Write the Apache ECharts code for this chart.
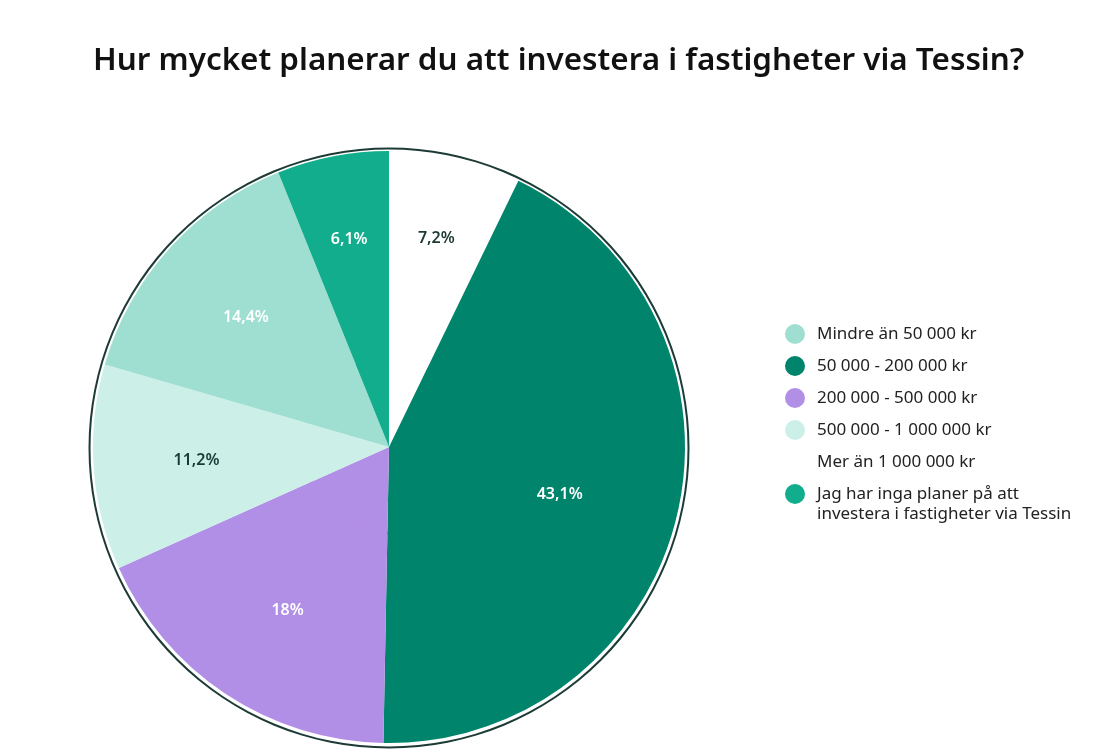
<!DOCTYPE html>
<html>
<head>
<meta charset="utf-8">
<script src="https://cdn.jsdelivr.net/npm/echarts@6/dist/echarts.min.js"></script>
<style>
  html,body{margin:0;padding:0;background:#fff;}
  #main{width:1094px;height:756px;}
</style>
</head>
<body>
<div id="main"></div>
<script>
// legend order (as in the reference)
var legendNames = ['Mindre än 50 000 kr','50 000 - 200 000 kr','200 000 - 500 000 kr','500 000 - 1 000 000 kr','Mer än 1 000 000 kr','Jag har inga planer på att investera i fastigheter via Tessin'];
// slice order, clockwise from 12 o'clock
var sliceNames = ['Mer än 1 000 000 kr','50 000 - 200 000 kr','200 000 - 500 000 kr','500 000 - 1 000 000 kr','Mindre än 50 000 kr','Jag har inga planer på att investera i fastigheter via Tessin'];
var sliceValues = [7.2, 43.1, 18, 11.2, 14.4, 6.1];
var sliceColors = ['#ffffff','#00846b','#b28fe6','#ccefe7','#9fdfd1','#11ad8c'];
var labelColors = ['#1c3a35','#ffffff','#ffffff','#1c3a35','#ffffff','#ffffff'];

var FONT = 'Noto Sans';
var chart = echarts.init(document.getElementById('main'));

var outerData = [], innerData = [];
for (var i = 0; i < sliceNames.length; i++) {
  var item = {
    name: sliceNames[i],
    value: sliceValues[i],
    itemStyle: {color: sliceColors[i]},
    label: {color: labelColors[i]}
  };
  // some labels sit a bit off the default spot
  if (i == 0) item.label.offset = [4, -20];
  if (i == 5) item.label.offset = [-3, -18];
  if (i == 1) item.label.offset = [-17, 2];
  if (i == 2) item.label.offset = [5, 2];
  outerData.push(item);
  innerData.push({name: sliceNames[i], value: sliceValues[i], itemStyle: {color: sliceColors[i]}});
}

var option = {
  backgroundColor: '#ffffff',
  title: {
    text: 'Hur mycket planerar du att investera i fastigheter via Tessin?',
    left: 88,
    top: 41,
    textStyle: {fontFamily: FONT, fontSize: 31.4, fontWeight: 600, color: '#111111'}
  },
  legend: [
    {
      orient: 'vertical',
      left: 780,
      top: 319,
      icon: 'circle',
      itemWidth: 34,
      itemHeight: 20,
      itemGap: 12,
      selectedMode: false,
      data: legendNames.slice(0, 5),
      textStyle: {fontFamily: FONT, fontSize: 17, color: '#222222'}
    },
    {
      // last entry wraps; blank first line keeps "Jag har..." level with the icon
      orient: 'vertical',
      left: 780,
      top: 459,
      icon: 'circle',
      itemWidth: 34,
      itemHeight: 20,
      selectedMode: false,
      data: legendNames.slice(5),
      formatter: function(name){
        return '\nJag har inga planer på att\ninvestera i fastigheter via Tessin';
      },
      textStyle: {fontFamily: FONT, fontSize: 17, color: '#222222', lineHeight: 20}
    }
  ],
  series: [
    {
      // fills the middle of the pie
      type: 'pie',
      center: [389, 447],
      radius: [0, 88],
      startAngle: 90,
      silent: true,
      label: {show: false},
      labelLine: {show: false},
      itemStyle: {borderWidth: 0},
      data: innerData
    },
    {
      type: 'pie',
      center: [389, 447],
      radius: [84, 296],
      startAngle: 90,
      silent: true,
      itemStyle: {borderWidth: 0},
      label: {
        show: true,
        position: 'inside',
        fontFamily: FONT,
        fontSize: 16,
        fontWeight: 600,
        formatter: function(p){ return String(p.value).replace('.', ',') + '%'; }
      },
      labelLine: {show: false},
      data: outerData
    },
    {
      // thin outline ring
      type: 'pie',
      center: [389, 448],
      radius: [298.5, 300.5],
      silent: true,
      label: {show: false},
      labelLine: {show: false},
      itemStyle: {color: '#1d3b36', borderWidth: 0},
      data: [{name: 'ring', value: 1}]
    }
  ]
};
chart.setOption(option);
</script>
</body>
</html>
